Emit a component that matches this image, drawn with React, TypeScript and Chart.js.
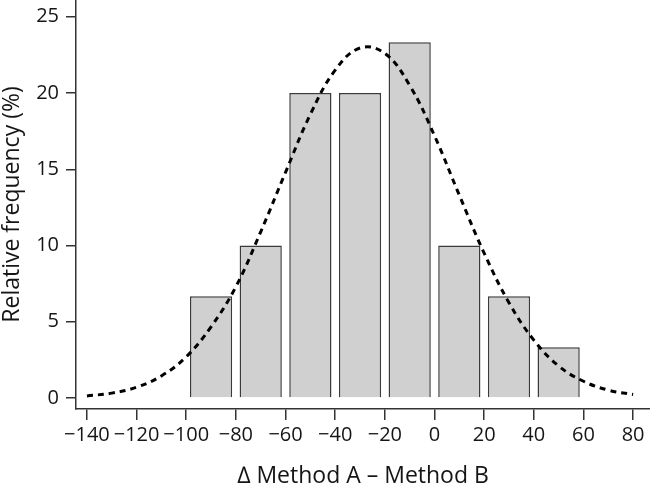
import React, { useEffect, useRef } from "react";
import { Chart, registerables } from "chart.js";

Chart.register(...registerables);

// Histogram bins (centre of each 20-unit bin) and relative frequencies (%)
const binCenters = [-90, -70, -50, -30, -10, 10, 30, 50];
const frequencies = [6.67, 10, 20, 20, 23.33, 10, 6.67, 3.33];

// Fitted normal curve
const curveX = [-140, -130, -120, -110, -100, -90, -80, -70, -60, -50, -40, -30, -20, -10, 0, 10, 20, 30, 40, 50, 60, 70, 80];
const curveY = [0.14, 0.32, 0.71, 1.45, 2.7, 4.67, 7.3, 10.9, 14.8, 18.6, 21.5, 22.95, 22.6, 20.5, 17.2, 13.3, 9.5, 6.25, 3.8, 2.1, 1.1, 0.52, 0.23];

// Axis ticks
const xTicks = [-140, -120, -100, -80, -60, -40, -20, 0, 20, 40, 60, 80];
const yTicks = [0, 5, 10, 15, 20, 25];

const xTitle = "\u2206 Method A \u2013 Method B";
const yTitle = "Relative frequency (%)";

const FONT = "'Open Sans', 'DejaVu Sans', sans-serif";
const AXIS_COLOR = "#333333";
const TEXT_COLOR = "#151515";

const fmt = (v: number) => (v < 0 ? "\u2212" + Math.abs(v) : String(v));

export default function App() {
  const canvasRef = useRef<HTMLCanvasElement | null>(null);

  useEffect(() => {
    if (!canvasRef.current) return;
    const chart = new Chart(canvasRef.current, {
      type: "bar",
      data: {
        datasets: [
          {
            type: "line",
            data: curveX.map((x, i) => ({ x, y: curveY[i] })),
            borderColor: "#000000",
            borderWidth: 3,
            borderDash: [6, 5],
            pointRadius: 0,
            tension: 0.4,
            fill: false,
            order: 1,
          } as any,
          {
            type: "bar",
            data: binCenters.map((x, i) => ({ x, y: frequencies[i] })),
            backgroundColor: "#d0d0d0",
            borderColor: "#3a3a3a",
            borderWidth: 1.5,
            barPercentage: 0.85,
            categoryPercentage: 1,
            order: 2,
          } as any,
        ],
      },
      options: {
        responsive: true,
        maintainAspectRatio: false,
        animation: false,
        layout: { padding: 0 },
        plugins: {
          legend: { display: false },
          tooltip: { enabled: false },
        },
        scales: {
          x: {
            type: "linear",
            min: -144.4,
            max: 86.8,
            offset: false,
            grid: {
              display: true,
              offset: false,
              drawOnChartArea: false,
              drawTicks: true,
              tickLength: 11,
              color: AXIS_COLOR,
              lineWidth: 1.5,
            },
            border: { display: true, color: AXIS_COLOR, width: 1.5 },
            ticks: {
              autoSkip: false,
              maxRotation: 0,
              padding: 3,
              color: TEXT_COLOR,
              font: { family: FONT, size: 20 },
              callback: (v: any) => fmt(Number(v)),
            },
            title: {
              display: true,
              text: xTitle,
              color: TEXT_COLOR,
              font: { family: FONT, size: 23, lineHeight: 1 },
              padding: { top: 0, bottom: 5 },
            },
            afterBuildTicks: (s: any) => {
              s.ticks = xTicks.map((v) => ({ value: v }));
            },
            afterFit: (s: any) => {
              s.height = 84;
              s.paddingLeft = 0;
              s.paddingRight = 0;
            },
          },
          y: {
            type: "linear",
            min: -0.72,
            max: 26.1,
            grid: {
              display: true,
              offset: false,
              drawOnChartArea: false,
              drawTicks: true,
              tickLength: 10,
              color: AXIS_COLOR,
              lineWidth: 1.5,
            },
            border: { display: true, color: AXIS_COLOR, width: 1.5 },
            ticks: {
              padding: 7,
              color: TEXT_COLOR,
              font: { family: FONT, size: 20 },
              callback: (v: any) => fmt(Number(v)),
            },
            title: {
              display: true,
              text: yTitle,
              color: TEXT_COLOR,
              font: { family: FONT, size: 23, lineHeight: 1 },
              padding: { top: 1, bottom: 0 },
            },
            afterBuildTicks: (s: any) => {
              s.ticks = yTicks.map((v) => ({ value: v }));
            },
            afterFit: (s: any) => {
              s.width = 76;
              s.paddingTop = 0;
              s.paddingBottom = 0;
            },
          },
        },
      } as any,
    });
    return () => chart.destroy();
  }, []);

  return (
    <div style={{ position: "absolute", left: 0, top: 0, width: 650, height: 493, background: "#ffffff" }}>
      <canvas ref={canvasRef} />
    </div>
  );
}
